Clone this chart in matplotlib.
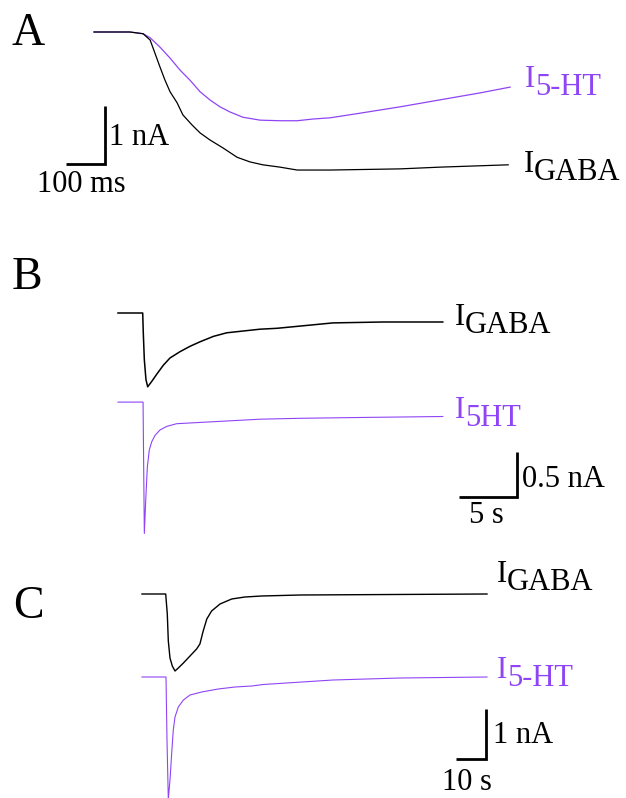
import numpy as np
import matplotlib
matplotlib.use('Agg')
import matplotlib.pyplot as plt

# Размер картинки в пикселях
W, H = 626, 798
purple = '#8f45f5'
plt.rcParams['font.family'] = ['Liberation Serif', 'DejaVu Serif']

# Панель A: время (мс), ток (нА)
a_gaba_t = [0, 92, 126, 144, 156, 169, 182, 195, 213, 228, 251, 272, 297, 331, 367, 400,
            433, 477, 521, 605, 785, 887, 1062]
a_gaba_i = [0, 0, -0.03, -0.14, -0.36, -0.60, -0.83, -1.03, -1.22, -1.43, -1.60, -1.74, -1.86,
            -2.00, -2.16, -2.24, -2.29, -2.33, -2.38, -2.38, -2.36, -2.33, -2.29]
a_5ht_t = [0, 92, 126, 144, 169, 195, 221, 246, 272, 297, 323, 349, 382, 426, 477, 521, 562,
           605, 682, 785, 887, 990, 1067]
a_5ht_i = [0, 0, -0.03, -0.10, -0.26, -0.45, -0.66, -0.83, -1.03, -1.17, -1.29, -1.38, -1.47,
           -1.52, -1.53, -1.53, -1.50, -1.48, -1.40, -1.29, -1.17, -1.05, -0.95]

# Панель B: время (с), ток (нА)
b_gaba_t = [0, 2.13, 2.18, 2.27, 2.41, 2.56, 2.91, 3.34, 3.91, 4.48, 5.34, 6.21, 7.07, 8.22,
            9.37, 10.80, 12.24, 13.71, 18.53, 22.84, 28.0]
b_gaba_i = [0, 0, -0.22, -0.52, -0.74, -0.82, -0.76, -0.68, -0.58, -0.50, -0.43, -0.37, -0.32,
            -0.26, -0.22, -0.20, -0.18, -0.17, -0.11, -0.10, -0.10]
b_5ht_t = [0, 2.16, 2.22, 2.27, 2.39, 2.53, 2.70, 2.91, 3.19, 3.62, 4.20, 5.06, 6.49, 7.93,
           10.80, 12.24, 15.69, 21.47, 28.0]
b_5ht_i = [0, 0, -0.80, -1.46, -1.09, -0.72, -0.53, -0.44, -0.37, -0.31, -0.27, -0.24, -0.23,
           -0.22, -0.20, -0.19, -0.18, -0.17, -0.16]

# Панель C: время (с), ток (нА)
c_gaba_t = [0, 7.9, 8.43, 8.77, 9.33, 10.1, 11.0, 12.1, 13.8, 16.0, 18.2, 19.3, 20.4, 21.6,
            23.2, 26.0, 29.9, 34.3, 39.9, 52.7, 115.0]
c_gaba_i = [0, 0, -0.40, -0.94, -1.28, -1.44, -1.54, -1.48, -1.38, -1.24, -1.10, -1.00, -0.74,
            -0.50, -0.34, -0.20, -0.10, -0.06, -0.04, -0.02, 0]
c_5ht_t = [0, 8.0, 8.33, 8.77, 9.33, 9.9, 10.43, 11.0, 12.1, 13.8, 16.0, 19.9, 25.4, 31.0,
           36.6, 40.4, 63.7, 86.0, 115.0]
c_5ht_i = [0, 0, -1.26, -2.45, -2.06, -1.52, -1.06, -0.80, -0.60, -0.46, -0.36, -0.30, -0.24,
           -0.20, -0.18, -0.15, -0.06, -0.02, 0]

fig = plt.figure(figsize=(W / 100, H / 100), dpi=100)


def make_panel(x0, y0, sx, sy):
    # оси на всю фигуру, масштаб подобран так, чтобы (0, 0) попадал в (x0, y0) пикселей
    ax = fig.add_axes([0, 0, 1, 1])
    ax.set_xlim(-x0 / sx, (W - x0) / sx)
    ax.set_ylim((y0 - H) / sy, y0 / sy)
    ax.axis('off')
    ax.patch.set_alpha(0)
    return ax


def scale_bar(ax, t, i, dt, di):
    ax.plot([t - dt, t, t], [i, i, i + di], color='black', lw=2.0,
            solid_joinstyle='miter', solid_capstyle='butt')


def ftext(x, y, s, size=22, color='black'):
    fig.text(x / W, 1 - y / H, s, fontsize=size, color=color, ha='left', va='baseline')


def trace_label(x, y, sub, color):
    ftext(x, y, 'I', 22, color)
    ftext(x + 10, y + 8, sub, 22, color)


# A
axA = make_panel(94, 32, 0.39, 58)
axA.plot(a_5ht_t, a_5ht_i, color=purple, lw=0.9)
axA.plot(a_gaba_t, a_gaba_i, color='black', lw=0.9)
scale_bar(axA, 28.2, -2.276, 100, 1)

# B
axB = make_panel(118, 313, 11.6, 90)
axB.plot(b_gaba_t, b_gaba_i, color='black', lw=1.1)
axB.plot(b_5ht_t, np.array(b_5ht_i) - 0.99, color=purple, lw=0.8)
scale_bar(axB, 34.4, -2.044, 5, 0.5)

# C
axC = make_panel(142, 594, 3.0, 50)
axC.plot(c_gaba_t, c_gaba_i, color='black', lw=1.0)
axC.plot(c_5ht_t, np.array(c_5ht_i) - 1.66, color=purple, lw=0.8)
scale_bar(axC, 114.7, -3.30, 10, 1)

# Подписи
ftext(12, 45, 'A', 33)
ftext(12, 289, 'B', 33)
ftext(13, 618, 'C', 33)

trace_label(525, 87, '5-HT', purple)
trace_label(524, 172, 'GABA', 'black')
trace_label(455, 325, 'GABA', 'black')
trace_label(455, 418, '5HT', purple)
trace_label(497, 582, 'GABA', 'black')
trace_label(497, 678, '5-HT', purple)

ftext(109, 145, '1 nA')
ftext(37, 192, '100 ms')
ftext(522, 487, '0.5 nA')
ftext(469, 523, '5 s')
ftext(493, 743, '1 nA')
ftext(442, 790, '10 s')

fig.savefig('out.png', dpi=100)
